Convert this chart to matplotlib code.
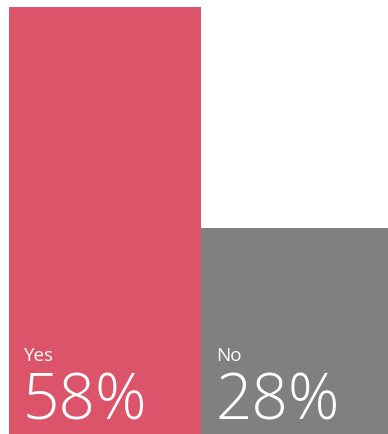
import matplotlib.pyplot as plt

# ==========================
# data
# ==========================

labels = ["Yes", "No"]
values = [58, 28]
colors = ["#DB5469", "#808080"]

# ==========================
# figure
# ==========================

fig = plt.figure(figsize=(3.88, 4.34), dpi=100)
ax = fig.add_axes([0, 0, 1, 1])

positions = list(range(len(values)))

ax.bar(
    positions,
    values,
    width=1,
    align="edge",
    color=colors,
    linewidth=0
)

# pixel layout: bars start 9px from left, 192px wide, tallest reaches 7px from top
ax.set_xlim(-9 / 192, (388 - 9) / 192)
ax.set_ylim(0, max(values) * 434 / 427)
ax.axis("off")

# --------------------------
# labels inside bars
# --------------------------

for pos, label, val in zip(positions, labels, values):
    ax.annotate(
        label,
        xy=(pos, 0),
        xytext=(15, 73),
        textcoords="offset pixels",
        ha="left",
        va="baseline",
        color="white",
        fontsize=13.5,
        family="Open Sans",
        fontweight="normal"
    )
    ax.annotate(
        f"{val}%",
        xy=(pos, 0),
        xytext=(14, 14),
        textcoords="offset pixels",
        ha="left",
        va="baseline",
        color="white",
        fontsize=46,
        family="Open Sans",
        fontweight="light"
    )

plt.savefig("out.png", dpi=100)
